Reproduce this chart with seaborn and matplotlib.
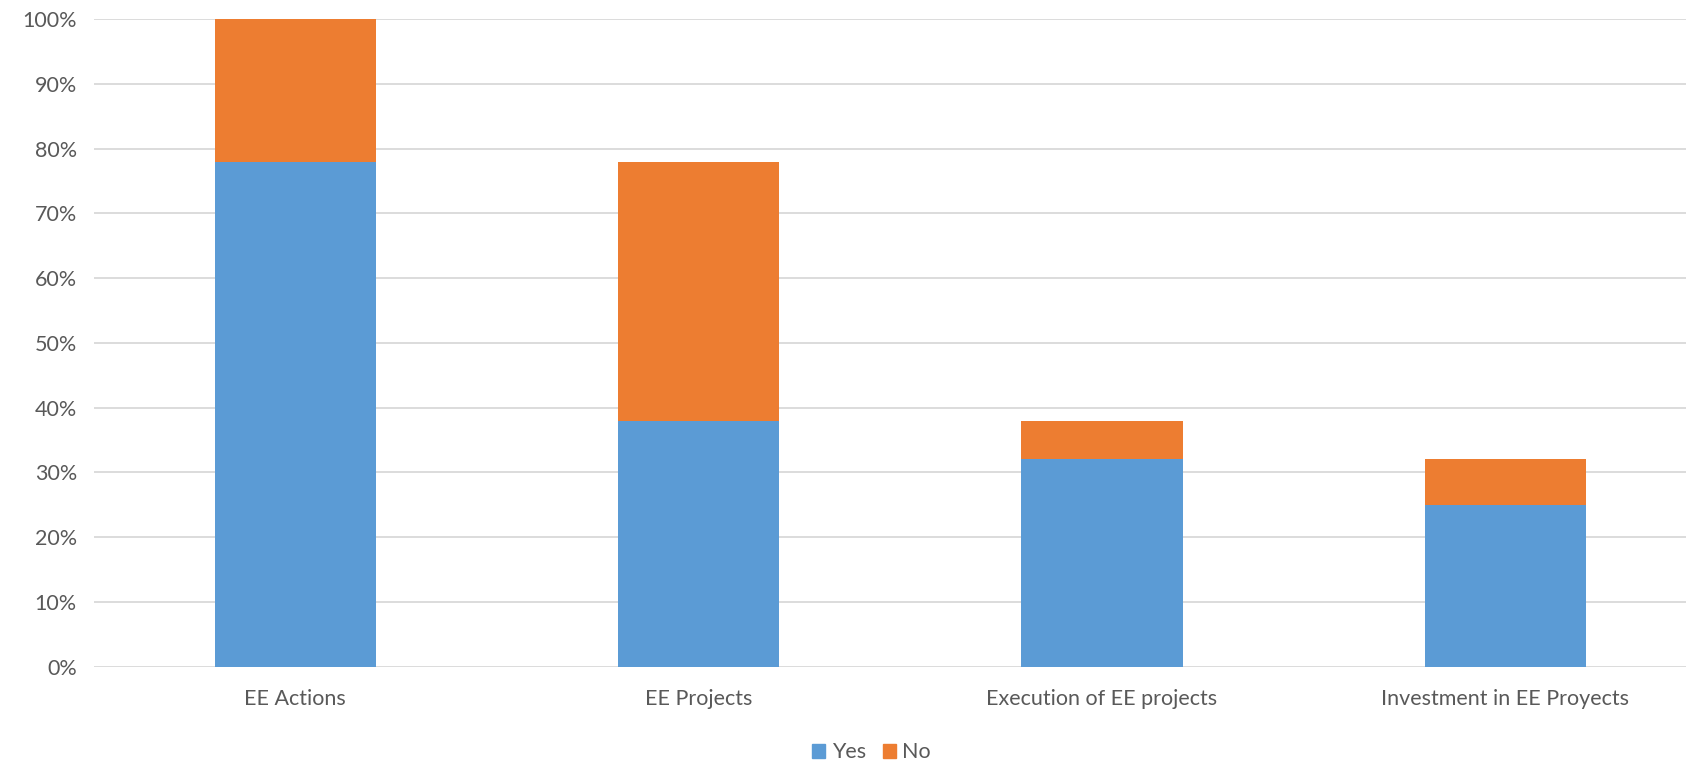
import pandas as pd
import seaborn as sns
import matplotlib.pyplot as plt
from matplotlib.patches import Patch
from matplotlib.ticker import PercentFormatter

# Données (%)
categories = ["EE Actions", "EE Projects", "Execution of EE projects", "Investment in EE Proyects"]
yes_vals = [78, 38, 32, 25]
no_vals = [22, 40, 6, 7]

COLOR_YES = "#5B9BD5"
COLOR_NO = "#ED7D31"
TEXT_COLOR = "#595959"
FONT_SIZE = 15.5

df = pd.DataFrame({"categorie": categories, "yes": yes_vals, "no": no_vals})
df["total"] = df["yes"] + df["no"]

sns.set_theme(style="white")
plt.rcParams['font.family'] = ['Lato', 'DejaVu Sans']

fig = plt.figure(figsize=(16.86, 7.62), dpi=100)
# la zone de tracé déborde légèrement à droite (graphique rogné)
ax = fig.add_axes([0.0555, 0.125, 0.957, 0.85])

# Empilement : total (orange) puis "Yes" par-dessus (bleu)
sns.barplot(data=df, x="categorie", y="total", color=COLOR_NO, width=0.4,
            saturation=1, linewidth=0, ax=ax, zorder=2)
sns.barplot(data=df, x="categorie", y="yes", color=COLOR_YES, width=0.4,
            saturation=1, linewidth=0, ax=ax, zorder=3)

ax.set_ylim(0, 100)
ax.set_xlim(-0.5, len(categories) - 0.5)
ax.set_yticks(range(0, 101, 10))
ax.yaxis.set_major_formatter(PercentFormatter(decimals=0))
ax.yaxis.grid(True, color="#D9D9D9", linewidth=1.3, zorder=0)
ax.set_axisbelow(True)
ax.tick_params(axis="both", length=0, labelsize=FONT_SIZE, colors=TEXT_COLOR)
ax.tick_params(axis="x", pad=16)
ax.tick_params(axis="y", pad=12)
ax.set_xlabel("")
ax.set_ylabel("")
sns.despine(ax=ax, left=True, bottom=True)

handles = [Patch(color=COLOR_YES, label="Yes"), Patch(color=COLOR_NO, label="No")]
fig.legend(handles=handles, loc="lower center", bbox_to_anchor=(0.517, -0.026), ncol=2,
           frameon=False, fontsize=FONT_SIZE, handlelength=0.6, handleheight=0.6,
           handletextpad=0.3, columnspacing=0.8, labelcolor=TEXT_COLOR)

fig.savefig("out.png", dpi=100)
